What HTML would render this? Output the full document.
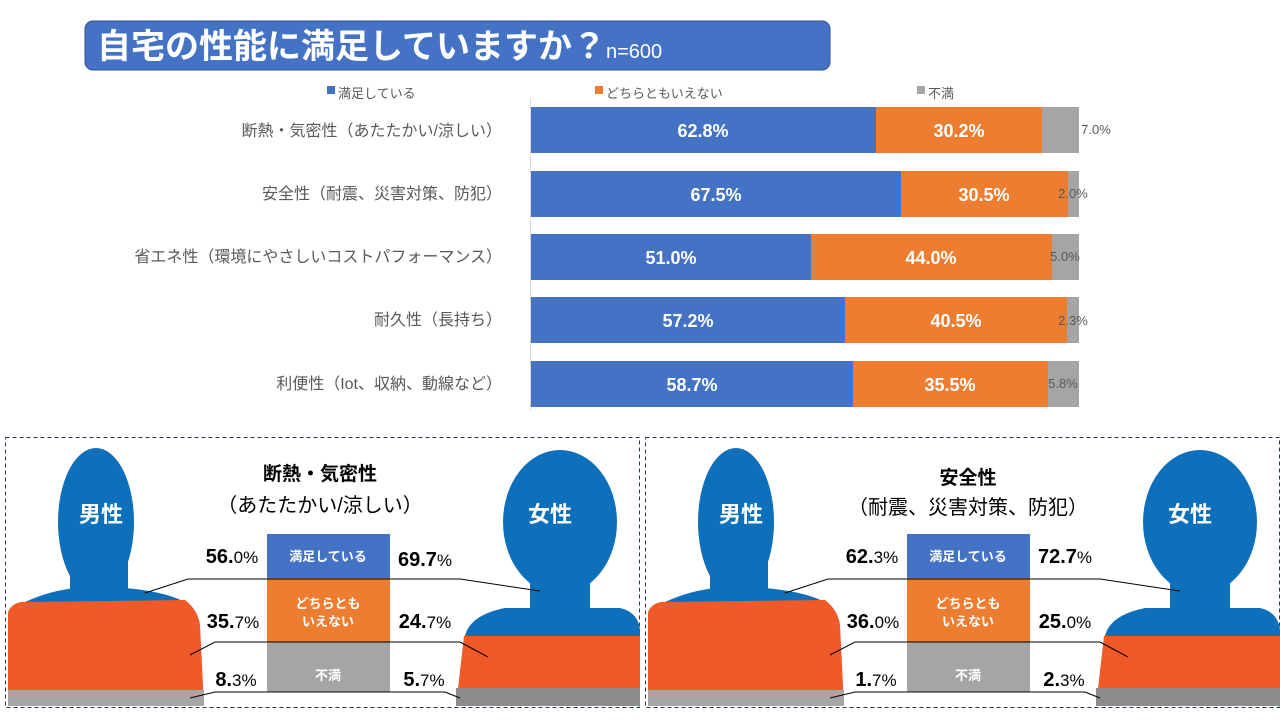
<!DOCTYPE html>
<html><head><meta charset="utf-8"><style>
body{margin:0;background:#fff;}
svg{display:block;font-family:"Liberation Sans","Noto Sans CJK JP",sans-serif;}
</style></head><body>
<svg width="1280" height="720" viewBox="0 0 1280 720">
<rect x="85" y="21" width="745" height="49" rx="8" fill="#4472c4" stroke="#2f528f" stroke-width="1"/>
<text x="97" y="58" font-size="34" fill="#fff" font-weight="bold">自宅の性能に満足していますか？<tspan font-size="20" font-weight="normal">n=600</tspan></text>
<rect x="327" y="86" width="8" height="8" fill="#4472c4"/><text x="338" y="98" font-size="13" fill="#595959">満足している</text>
<rect x="595" y="86" width="8" height="8" fill="#ed7d31"/><text x="606" y="98" font-size="13" fill="#595959">どちらともいえない</text>
<rect x="917" y="86" width="8" height="8" fill="#a5a5a5"/><text x="928" y="98" font-size="13" fill="#595959">不満</text>
<line x1="530.5" y1="98" x2="530.5" y2="410" stroke="#d9d9d9"/>
<g font-size="16" fill="#595959" text-anchor="end">
<text x="502" y="136">断熱・気密性（あたたかい/涼しい）</text>
<text x="502" y="199">安全性（耐震、災害対策、防犯）</text>
<text x="502" y="262">省エネ性（環境にやさしいコストパフォーマンス）</text>
<text x="502" y="325">耐久性（長持ち）</text>
<text x="502" y="389">利便性（Iot、収納、動線など）</text>
</g>
<g font-size="18" font-weight="bold" fill="#fff" text-anchor="middle">
<rect x="531" y="107" width="345" height="46" fill="#4472c4"/><rect x="876" y="107" width="166" height="46" fill="#ed7d31"/><rect x="1042" y="107" width="37" height="46" fill="#a5a5a5"/>
<text x="703" y="137">62.8%</text><text x="959" y="137">30.2%</text>
<rect x="531" y="171" width="370" height="46" fill="#4472c4"/><rect x="901" y="171" width="167" height="46" fill="#ed7d31"/><rect x="1068" y="171" width="11" height="46" fill="#a5a5a5"/>
<text x="716" y="201">67.5%</text><text x="984" y="201">30.5%</text>
<rect x="531" y="234" width="280" height="46" fill="#4472c4"/><rect x="811" y="234" width="241" height="46" fill="#ed7d31"/><rect x="1052" y="234" width="27" height="46" fill="#a5a5a5"/>
<text x="671" y="264">51.0%</text><text x="931" y="264">44.0%</text>
<rect x="531" y="297" width="314" height="46" fill="#4472c4"/><rect x="845" y="297" width="222" height="46" fill="#ed7d31"/><rect x="1067" y="297" width="12" height="46" fill="#a5a5a5"/>
<text x="688" y="327">57.2%</text><text x="956" y="327">40.5%</text>
<rect x="531" y="361" width="322" height="46" fill="#4472c4"/><rect x="853" y="361" width="195" height="46" fill="#ed7d31"/><rect x="1048" y="361" width="31" height="46" fill="#a5a5a5"/>
<text x="692" y="391">58.7%</text><text x="950" y="391">35.5%</text>
</g>
<g font-size="13" fill="#595959" text-anchor="middle">
<text x="1096" y="134">7.0%</text><text x="1073" y="198">2.0%</text><text x="1065" y="261">5.0%</text><text x="1073" y="325">2.3%</text><text x="1063" y="388">5.8%</text>
</g>

<g id="p1">
<rect x="5.5" y="437.5" width="634" height="270" fill="none" stroke="#1f3864" stroke-dasharray="4,3"/>
<ellipse cx="96" cy="522" rx="38" ry="74" fill="#0e6fba"/>
<rect x="70" y="560" width="58" height="40" fill="#0e6fba"/>
<path d="M10,610 Q40,592 75,588 L125,588 Q170,592 190,605 Z" fill="#0e6fba"/>
<path d="M8,612 Q12,603 22,602 L185,600 Q198,610 200,625 L204,706 L8,706 Z" fill="#f05a28"/>
<rect x="8" y="690" width="196" height="16" fill="#a6a6a6"/>
<text x="101" y="522" font-size="22" font-weight="bold" fill="#fff" text-anchor="middle">男性</text>
<ellipse cx="560" cy="522" rx="57" ry="72" fill="#0e6fba"/>
<rect x="530" y="570" width="60" height="40" fill="#0e6fba"/>
<path d="M465,636 Q470,615 505,608 L620,608 Q638,612 640,630 L640,640 L465,640 Z" fill="#0e6fba"/>
<path d="M464,636 L640,636 L640,706 L456,706 Z" fill="#f05a28"/>
<rect x="456" y="688" width="184" height="18" fill="#8c8c8c"/>
<text x="550" y="522" font-size="22" font-weight="bold" fill="#fff" text-anchor="middle">女性</text>
<rect x="267" y="534" width="123" height="44" fill="#4472c4"/>
<rect x="267" y="578" width="123" height="64" fill="#ed7d31"/>
<rect x="267" y="642" width="123" height="50" fill="#a5a5a5"/>
<g font-size="13" font-weight="bold" fill="#fff" text-anchor="middle">
<text x="328" y="561">満足している</text><text x="328" y="608">どちらとも</text><text x="328" y="626">いえない</text><text x="328" y="680">不満</text></g>
<g fill="none" stroke="#000" stroke-width="1">
<polyline points="145,593 188,579 460,579 540,591"/>
<polyline points="190,655 215,642 460,642 488,657"/>
<polyline points="190,698 215,692 445,692 460,698"/>
</g>
</g>
<g font-size="17" fill="#000" text-anchor="middle">
<text x="320" y="480" font-size="19" font-weight="bold">断熱・気密性</text>
<text x="320" y="512" font-size="20">（あたたかい/涼しい）</text>
<text x="232" y="563"><tspan font-size="20" font-weight="bold">56.</tspan>0%</text>
<text x="425" y="566"><tspan font-size="20" font-weight="bold">69.7</tspan>%</text>
<text x="233" y="628"><tspan font-size="20" font-weight="bold">35.</tspan>7%</text>
<text x="425" y="628"><tspan font-size="20" font-weight="bold">24.</tspan>7%</text>
<text x="236" y="686"><tspan font-size="20" font-weight="bold">8.</tspan>3%</text>
<text x="424" y="686"><tspan font-size="20" font-weight="bold">5.</tspan>7%</text>
</g>
<g transform="translate(640,0)">
<use href="#p1"/>
</g>
<g font-size="17" fill="#000" text-anchor="middle" transform="translate(640,0)">
<text x="328" y="484" font-size="19" font-weight="bold">安全性</text>
<text x="328" y="514" font-size="20">（耐震、災害対策、防犯）</text>
<text x="232" y="563"><tspan font-size="20" font-weight="bold">62.</tspan>3%</text>
<text x="425" y="563"><tspan font-size="20" font-weight="bold">72.7</tspan>%</text>
<text x="233" y="628"><tspan font-size="20" font-weight="bold">36.</tspan>0%</text>
<text x="425" y="628"><tspan font-size="20" font-weight="bold">25.</tspan>0%</text>
<text x="236" y="686"><tspan font-size="20" font-weight="bold">1.</tspan>7%</text>
<text x="424" y="686"><tspan font-size="20" font-weight="bold">2.</tspan>3%</text>
</g>
</svg>
</body></html>
